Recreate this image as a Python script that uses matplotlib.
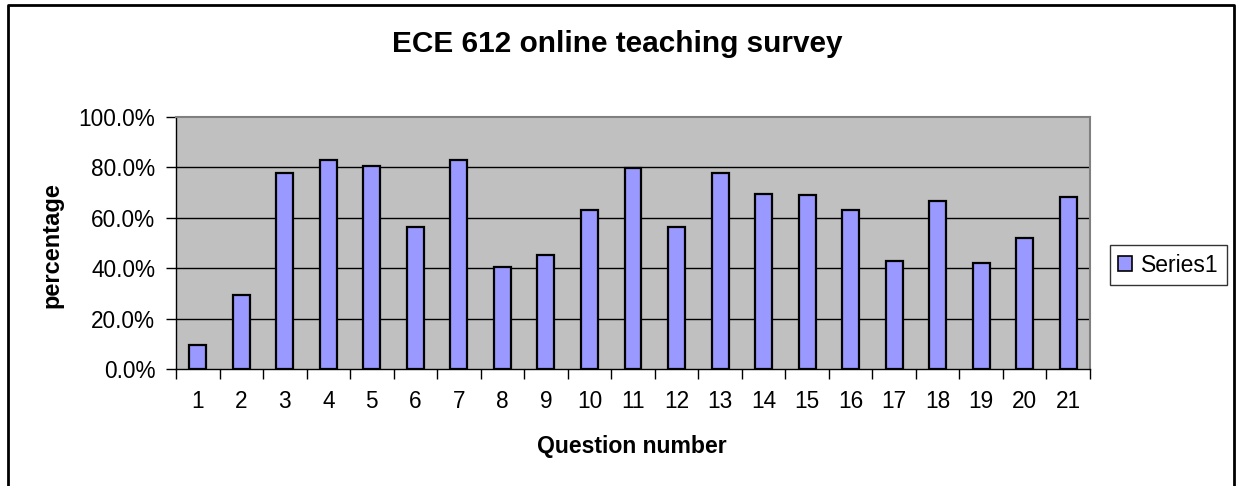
import matplotlib
matplotlib.use("Agg")
import matplotlib.pyplot as plt
from matplotlib.lines import Line2D
from matplotlib.ticker import PercentFormatter

# Survey results: share of positive answers per question
questions = [str(i) for i in range(1, 22)]
percentages = [9.4, 29.5, 77.7, 82.9, 80.5, 56.3, 82.9, 40.5, 45.2, 62.9, 79.9,
               56.3, 77.7, 69.5, 68.9, 62.9, 42.8, 66.6, 42.1, 51.8, 68.1]
series_name = "Series1"
title = "ECE 612 online teaching survey"
x_label = "Question number"
y_label = "percentage"
y_ticks = [0, 20, 40, 60, 80, 100]

W, H = 1236, 486
plt.rcParams["font.family"] = ["Liberation Sans", "DejaVu Sans"]
fig = plt.figure(figsize=(W / 100, H / 100), dpi=100)

ax = fig.add_axes([176 / W, 1 - 369 / H, (1090 - 176) / W, (369 - 117) / H])
ax.set_facecolor("#C0C0C0")

pos = list(range(len(questions)))
ax.bar(pos, percentages, width=0.39, color="#9999FF", edgecolor="black",
       linewidth=1.6, zorder=3, label=series_name)

ax.set_xlim(-0.5, len(questions) - 0.5)
ax.set_ylim(0, 100)
ax.set_yticks(y_ticks)
ax.yaxis.set_major_formatter(PercentFormatter(decimals=1))
for y in y_ticks[1:-1]:
    ax.axhline(y, color="black", linewidth=1.0, zorder=1)

# category ticks sit on the boundaries, labels at the centres
ax.set_xticks([p - 0.5 for p in pos] + [len(pos) - 0.5])
ax.set_xticklabels([])
ax.set_xticks(pos, minor=True)
ax.set_xticklabels(questions, minor=True)
ax.tick_params(axis="x", which="major", length=7, width=1, direction="out")
ax.tick_params(axis="x", which="minor", length=0, pad=15, labelsize=16.3)
ax.tick_params(axis="y", length=7, width=1, direction="out", pad=8, labelsize=16.3)

for side in ("top", "right"):
    ax.spines[side].set_color("#808080")
    ax.spines[side].set_linewidth(1.5)
for side in ("left", "bottom"):
    ax.spines[side].set_color("black")
    ax.spines[side].set_linewidth(1.0)

fig.text(617 / W, 1 - 44 / H, title, ha="center", va="center",
         fontsize=21.4, fontweight="bold")
fig.text(632 / W, 1 - 446 / H, x_label, ha="center", va="center",
         fontsize=16.6, fontweight="bold")
fig.text(52 / W, 1 - 245 / H, y_label, ha="center", va="center",
         fontsize=17, fontweight="bold", rotation=90)

handle = [plt.Rectangle((0, 0), 1, 1, facecolor="#9999FF", edgecolor="black",
                        linewidth=1.2)]
leg = fig.legend(handle, [series_name], loc="center left",
                 bbox_to_anchor=(1110 / W, 1 - 265 / H), fontsize=16.5,
                 frameon=True, fancybox=False, edgecolor="black",
                 handlelength=0.6, handleheight=0.6, handletextpad=0.4,
                 borderpad=0.35, borderaxespad=0)
leg.get_frame().set_linewidth(1.0)

# outer chart frame
fx = [8 / W, 8 / W, 1234 / W, 1234 / W]
fy = [0, 1 - 5 / H, 1 - 5 / H, 0]
fig.add_artist(Line2D(fx, fy, color="black", linewidth=2,
                      transform=fig.transFigure))

fig.savefig("out.png", dpi=100)
